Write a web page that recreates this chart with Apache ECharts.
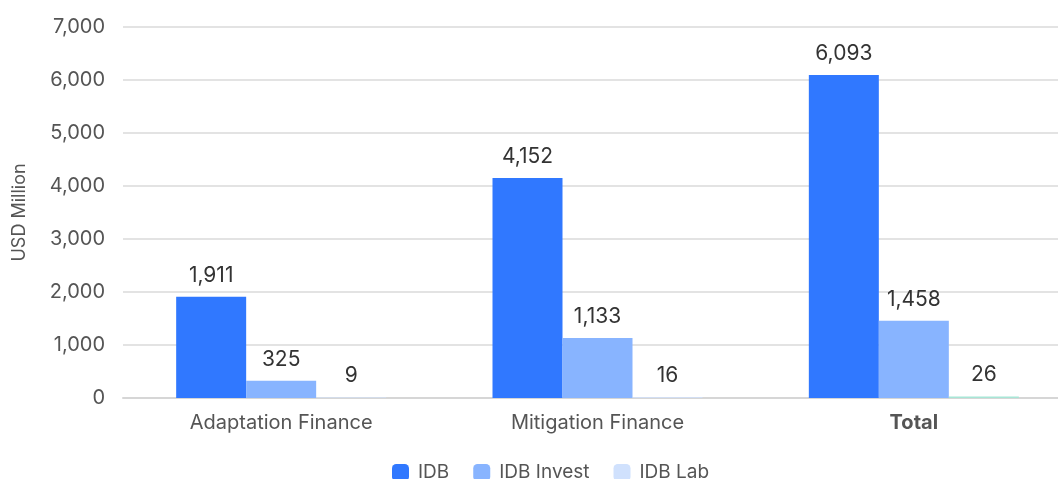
<!DOCTYPE html>
<html>
<head>
<meta charset="utf-8">
<script src="https://cdn.jsdelivr.net/npm/echarts@6/dist/echarts.min.js"></script>
<style>
  html, body { margin: 0; padding: 0; background: #fff; overflow: hidden; }
  #container { width: 1058px; height: 479px; }
</style>
</head>
<body>
<div id="container"></div>
<script>
// chart data
var categories = ['Adaptation Finance', 'Mitigation Finance', 'Total'];
var idbValues = [1911, 4152, 6093];
var investValues = [325, 1133, 1458];
var labValues = [9, 16, 26];
var yTicks = [0, 1000, 2000, 3000, 4000, 5000, 6000, 7000];

var chart = echarts.init(document.getElementById('container'));

function fmt(v) {
  return v.toLocaleString('en-US');
}

var labelStyle = {
  show: true,
  position: 'top',
  distance: 11,
  fontFamily: 'Inter',
  fontSize: 21,
  color: '#333',
  formatter: function (p) { return fmt(p.value); }
};

var option = {
  animation: false,
  textStyle: { fontFamily: 'Inter' },
  grid: { left: 123, width: 949, top: 27, bottom: 81, outerBoundsMode: 'none' },
  legend: {
    top: 458,
    left: 387,
    itemWidth: 17,
    itemHeight: 17,
    itemGap: 24,
    icon: 'roundRect',
    textStyle: { fontFamily: 'Inter', fontSize: 19, color: '#555', padding: [0, 0, 0, 4] },
    data: ['IDB', 'IDB Invest', 'IDB Lab']
  },
  xAxis: {
    type: 'category',
    data: categories,
    axisTick: { show: false },
    axisLine: { lineStyle: { color: '#d6d6d6', width: 2 } },
    axisLabel: {
      margin: 15,
      fontFamily: 'Inter',
      fontSize: 20,
      color: '#555',
      formatter: function (v) { return v === 'Total' ? '{b|' + v + '}' : v; },
      rich: { b: { fontWeight: 'bold', fontFamily: 'Inter', fontSize: 20, color: '#555' } }
    }
  },
  yAxis: {
    type: 'value',
    min: yTicks[0],
    max: yTicks[yTicks.length - 1],
    interval: 1000,
    name: 'USD Million',
    nameLocation: 'middle',
    nameGap: 94,
    nameTextStyle: { fontFamily: 'Inter', fontSize: 18, color: '#555' },
    axisLine: { show: false },
    axisTick: { show: false },
    splitLine: { lineStyle: { color: '#e3e3e3', width: 2 } },
    axisLabel: {
      margin: 18,
      fontFamily: 'Inter',
      fontSize: 20,
      color: '#555',
      formatter: function (v) { return fmt(v); }
    }
  },
  series: [
    {
      name: 'IDB',
      type: 'bar',
      data: idbValues,
      barWidth: 70,
      barGap: '0%',
      itemStyle: { color: '#3078ff' },
      label: labelStyle
    },
    {
      name: 'IDB Invest',
      type: 'bar',
      data: investValues,
      barWidth: 70,
      barGap: '0%',
      itemStyle: { color: '#88b4ff' },
      label: labelStyle
    },
    {
      name: 'IDB Lab',
      type: 'bar',
      data: labValues.map(function (v, i) {
        return i === 2 ? { value: v, itemStyle: { color: '#a7e6d6' } } : v;
      }),
      barWidth: 70,
      barGap: '0%',
      itemStyle: { color: '#d0e1fd' },
      label: labelStyle
    }
  ]
};

chart.setOption(option);
</script>
</body>
</html>
